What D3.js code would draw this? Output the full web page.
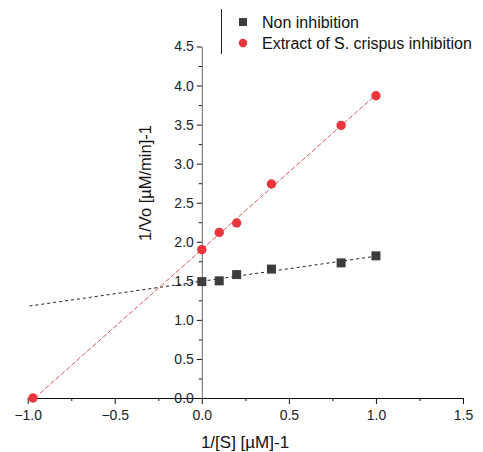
<!DOCTYPE html>
<html lang="en">
<head>
<meta charset="UTF-8">
<script src="https://d3js.org/d3.v7.min.js"></script>
<title>Lineweaver-Burk</title>
<style>
  body { margin: 0; background: #fff; }
  text { font-family: "Liberation Sans", Arial, sans-serif; }
</style>
</head>
<body>
<div id="chart"></div>
<script>
// data
var invS = [0, 0.1, 0.2, 0.4, 0.8, 1.0];
var nonInhibition = [1.49, 1.50, 1.58, 1.65, 1.73, 1.82];
var extractInhibition = [1.90, 2.12, 2.24, 2.74, 3.49, 3.87];
var extractIntercept = {x: -0.97, y: 0};   // point sitting on the x axis
var xTicks = [-1.0, -0.5, 0.0, 0.5, 1.0, 1.5];
var yTicks = [0.0, 0.5, 1.0, 1.5, 2.0, 2.5, 3.0, 3.5, 4.0, 4.5];
var seriesNames = ["Non inhibition", "Extract of S. crispus inhibition"];

var W = 483, H = 452;
var svg = d3.select("#chart").append("svg")
    .attr("width", W).attr("height", H);

var x = d3.scaleLinear().domain([-1, 1.5]).range([27.7, 463]);
var y = d3.scaleLinear().domain([0, 4.5]).range([398, 46.5]);

// least squares fit
function fit(xs, ys) {
  var n = xs.length, mx = d3.mean(xs), my = d3.mean(ys);
  var sxy = 0, sxx = 0;
  for (var i = 0; i < n; i++) {
    sxy += (xs[i] - mx) * (ys[i] - my);
    sxx += (xs[i] - mx) * (xs[i] - mx);
  }
  var b = sxy / sxx;
  return {slope: b, icpt: my - b * mx};
}

var fNon = fit(invS, nonInhibition);
var fExt = fit(invS, extractInhibition);

// black fit line, from -1 to 1
svg.append("line")
  .attr("x1", x(-0.99)).attr("y1", y(fNon.icpt + fNon.slope * -0.99))
  .attr("x2", x(1.0)).attr("y2", y(fNon.icpt + fNon.slope * 1.0))
  .attr("stroke", "#222").attr("stroke-width", 1)
  .attr("stroke-dasharray", "3,3");

// red fit line, from its x intercept to 1
var xr0 = -fExt.icpt / fExt.slope;
svg.append("line")
  .attr("x1", x(xr0)).attr("y1", y(0))
  .attr("x2", x(1.0)).attr("y2", y(fExt.icpt + fExt.slope * 1.0))
  .attr("stroke", "#d9444a").attr("stroke-width", 0.9)
  .attr("stroke-dasharray", "5,2");

// x axis
var xAxis = svg.append("g")
  .attr("transform", "translate(0," + y(0) + ")")
  .call(d3.axisBottom(x).tickValues(xTicks).tickFormat(d3.format(".1f")).tickSize(6).tickSizeOuter(0));
svg.append("g")
  .attr("transform", "translate(0," + y(0) + ")")
  .call(d3.axisBottom(x).tickValues(d3.range(-0.75, 1.5, 0.5)).tickFormat("").tickSize(3).tickSizeOuter(0))
  .select(".domain").remove();

// y axis
var yAxis = svg.append("g")
  .attr("transform", "translate(" + x(0) + ",0)")
  .call(d3.axisLeft(y).tickValues(yTicks).tickFormat(d3.format(".1f")).tickSize(5).tickSizeOuter(0));
svg.append("g")
  .attr("transform", "translate(" + x(0) + ",0)")
  .call(d3.axisLeft(y).tickValues(d3.range(0.25, 4.5, 0.5)).tickFormat("").tickSize(3).tickSizeOuter(0))
  .select(".domain").remove();

svg.selectAll(".tick text").attr("font-size", 14).attr("fill", "#222")
  .style("font-family", "'Liberation Sans', Arial, sans-serif");
xAxis.selectAll(".tick text").attr("dy", "0.95em");
xAxis.select(".domain").attr("stroke", "#111");
yAxis.select(".domain").attr("stroke", "#666");
svg.selectAll(".tick line").attr("stroke", "#111");

// axis titles
svg.append("text")
  .attr("x", 245).attr("y", 448)
  .attr("text-anchor", "middle").attr("font-size", 17).attr("fill", "#111")
  .text("1/[S] [\u00B5M]-1");
svg.append("text")
  .attr("transform", "translate(151,183) rotate(-90)")
  .attr("text-anchor", "middle").attr("font-size", 16.5).attr("fill", "#111")
  .text("1/Vo [\u00B5M/min]-1");

// markers
var sq = 9;
svg.selectAll(".non").data(invS).enter().append("rect")
  .attr("class", "non")
  .attr("x", function(d) { return x(d) - sq / 2; })
  .attr("y", function(d, i) { return y(nonInhibition[i]) - sq / 2; })
  .attr("width", sq).attr("height", sq)
  .attr("fill", "#3c3c3c");

var extPts = [extractIntercept].concat(invS.map(function(d, i) { return {x: d, y: extractInhibition[i]}; }));
svg.selectAll(".ext").data(extPts).enter().append("circle")
  .attr("class", "ext")
  .attr("cx", function(d) { return x(d.x); })
  .attr("cy", function(d) { return y(d.y); })
  .attr("r", 4.7)
  .attr("fill", "#e8363c");

// legend
var lg = svg.append("g");
lg.append("line").attr("x1", 221.5).attr("x2", 221.5).attr("y1", 9).attr("y2", 54)
  .attr("stroke", "#222").attr("stroke-width", 1);
lg.append("rect").attr("x", 239).attr("y", 18).attr("width", 8).attr("height", 8).attr("fill", "#3c3c3c");
lg.append("circle").attr("cx", 243).attr("cy", 43).attr("r", 4.2).attr("fill", "#e8363c");
lg.selectAll(".lt").data(seriesNames).enter().append("text")
  .attr("x", 262).attr("y", function(d, i) { return 28 + i * 21; })
  .attr("font-size", 16).attr("fill", "#111")
  .text(function(d) { return d; });
</script>
</body>
</html>
